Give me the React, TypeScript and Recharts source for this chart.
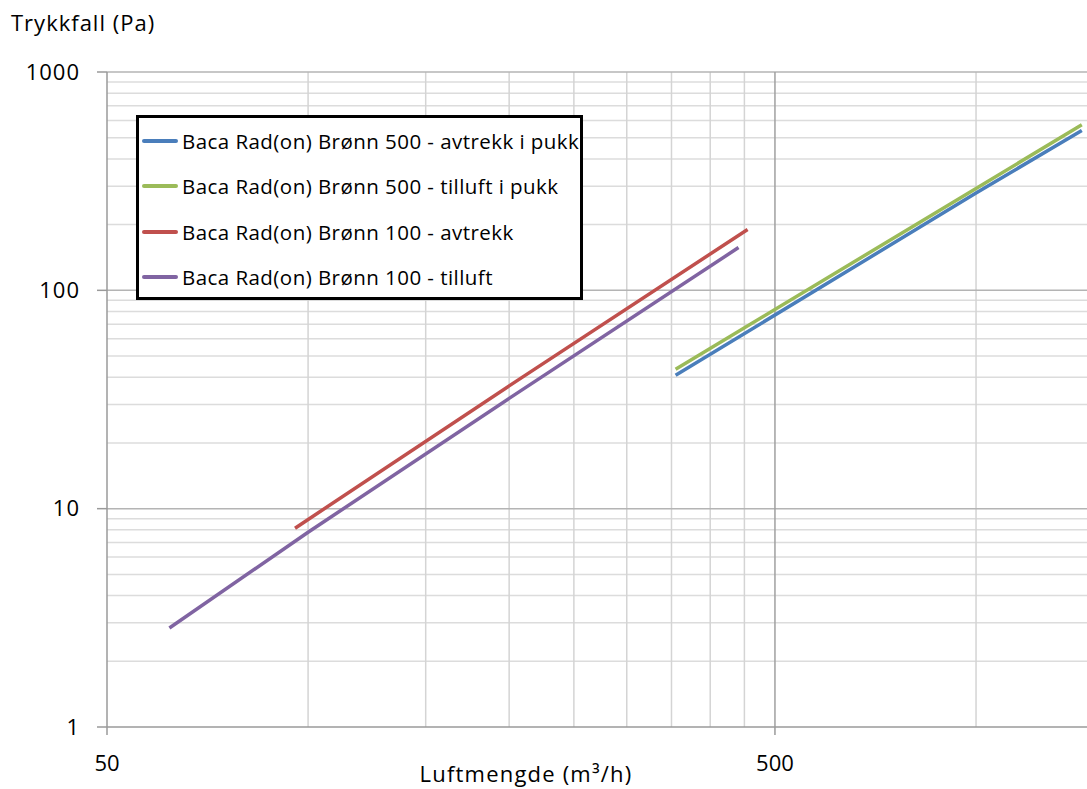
import { LineChart, Line, XAxis, YAxis, ReferenceLine, Legend } from 'recharts'

const FONT = '"Open Sans", Lato, sans-serif'

// values (log-log chart)
const blueData = [
  { x: 355, y: 40.8 },
  { x: 1000, y: 279 },
  { x: 1440, y: 540 },
]
const greenData = [
  { x: 355, y: 43.5 },
  { x: 1000, y: 293 },
  { x: 1440, y: 573 },
]
const redData = [
  { x: 95.6, y: 8.14 },
  { x: 200, y: 36.5 },
  { x: 455, y: 190 },
]
const purpleData = [
  { x: 62, y: 2.84 },
  { x: 100, y: 7.8 },
  { x: 200, y: 32 },
  { x: 441, y: 157 },
]

const series = [
  { name: 'Baca Rad(on) Brønn 500 - avtrekk i pukk', color: '#4A7EBB', data: blueData },
  { name: 'Baca Rad(on) Brønn 500 - tilluft i pukk', color: '#9BBB59', data: greenData },
  { name: 'Baca Rad(on) Brønn 100 - avtrekk', color: '#C0504D', data: redData },
  { name: 'Baca Rad(on) Brønn 100 - tilluft', color: '#8064A2', data: purpleData },
]

const xTicks = [50, 500]
const yTicks = [1, 10, 100, 1000]
const xMajorGrid = [500]
const xMinorGrid = [100, 150, 200, 250, 300, 350, 400, 450, 1000]
const yMajorGrid = [10, 100, 1000]
const yMinorGrid = [
  2, 3, 4, 5, 6, 7, 8, 9,
  20, 30, 40, 50, 60, 70, 80, 90,
  200, 300, 400, 500, 600, 700, 800, 900,
]

function LegendBox() {
  return (
    <div
      style={{
        boxSizing: 'border-box',
        width: 447,
        height: 185,
        border: '3px solid #000',
        background: '#fff',
        paddingTop: 0,
        fontFamily: FONT,
      }}
    >
      {series.map((s) => (
        <div key={s.name} style={{ display: 'flex', alignItems: 'center', height: 45.5 }}>
          <div style={{ width: 36, height: 4, background: s.color, marginLeft: 3, marginRight: 4, borderRadius: 2 }} />
          <span style={{ fontSize: 20.5, letterSpacing: 0.45, color: '#000', whiteSpace: 'nowrap' }}>{s.name}</span>
        </div>
      ))}
    </div>
  )
}

export default function App() {
  return (
    <div style={{ position: 'absolute', left: 0, top: 0, width: 1087, height: 789, background: '#fff' }}>
      <LineChart width={1087} height={789} margin={{ top: 72, right: 0, bottom: 0, left: 0 }}>
        {yMinorGrid.map((v) => (
          <ReferenceLine key={'ym' + v} y={v} stroke="#dcdcdc" strokeWidth={1.5} />
        ))}
        {xMinorGrid.map((v) => (
          <ReferenceLine key={'xm' + v} x={v} stroke="#d4d4d4" strokeWidth={1.5} />
        ))}
        {yMajorGrid.map((v) => (
          <ReferenceLine key={'yM' + v} y={v} stroke="#b4b4b4" strokeWidth={1.5} />
        ))}
        {xMajorGrid.map((v) => (
          <ReferenceLine key={'xM' + v} x={v} stroke="#a0a0a0" strokeWidth={1.5} />
        ))}
        <XAxis
          type="number"
          dataKey="x"
          scale="log"
          domain={[50, 1466]}
          allowDataOverflow
          ticks={xTicks}
          height={62}
          axisLine={{ stroke: '#9a9a9a', strokeWidth: 1.5 }}
          tickLine={{ stroke: '#9a9a9a', strokeWidth: 1.5 }}
          tickSize={8}
          tickMargin={20}
          tick={{ fill: '#000', fontSize: 22, fontFamily: FONT }}
          label={{
            content: () => (
              <text x={526} y={782} textAnchor="middle" fontSize={22} letterSpacing={1.2} fontFamily={FONT} fill="#000">
                Luftmengde (m³/h)
              </text>
            ),
          }}
        />
        <YAxis
          type="number"
          dataKey="y"
          scale="log"
          domain={[1, 1000]}
          allowDataOverflow
          ticks={yTicks}
          width={107}
          axisLine={{ stroke: '#9a9a9a', strokeWidth: 1.5 }}
          tickLine={{ stroke: '#9a9a9a', strokeWidth: 1.5 }}
          tickSize={10}
          tickMargin={17}
          tick={{ fill: '#000', fontSize: 22, letterSpacing: 1, fontFamily: FONT }}
          label={{
            content: () => (
              <text x={11} y={31} textAnchor="start" fontSize={22} letterSpacing={1} fontFamily={FONT} fill="#000">
                Trykkfall (Pa)
              </text>
            ),
          }}
        />
        {series.map((s) => (
          <Line
            key={s.name}
            data={s.data}
            dataKey="y"
            name={s.name}
            type="linear"
            stroke={s.color}
            strokeWidth={3.5}
            dot={false}
            activeDot={false}
            isAnimationActive={false}
          />
        ))}
        <Legend
          layout="vertical"
          align="center"
          verticalAlign="middle"
          content={() => <LegendBox />}
          wrapperStyle={{ left: 136, top: 115, width: 447, height: 185 }}
        />
      </LineChart>
    </div>
  )
}
